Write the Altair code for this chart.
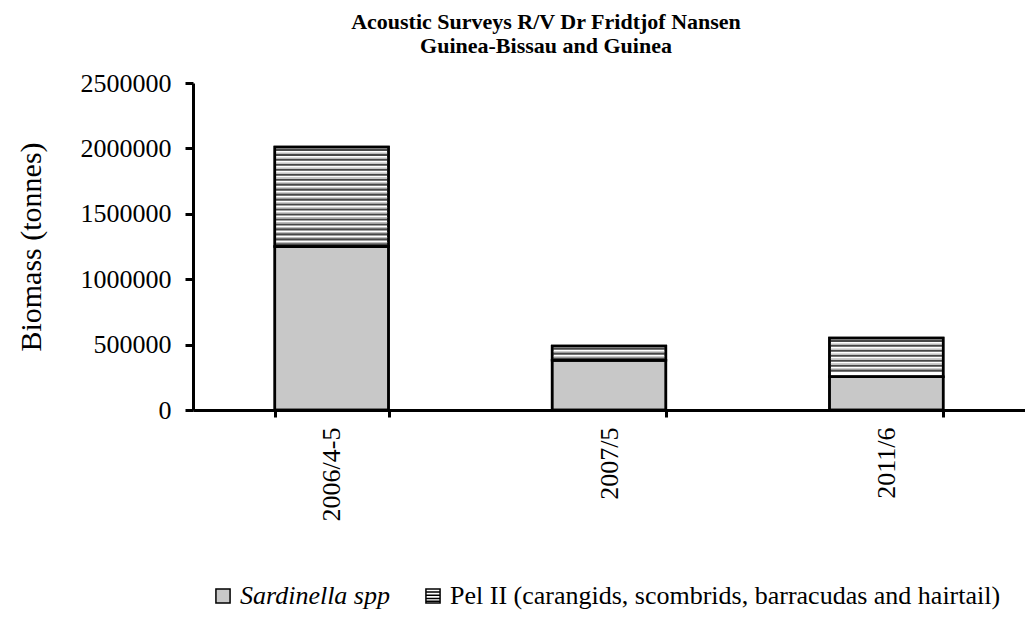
import altair as alt
import pandas as pd
import numpy as np

# ---- data ----
surveys = ["2006/4-5", "2007/5", "2011/6"]
sardinella = [1250000, 380000, 255000]
pel_ii = [760000, 110000, 295000]
series = ["Sardinella spp", "Pel II (carangids, scombrids, barracudas and hairtail)"]
y_ticks = [0, 500000, 1000000, 1500000, 2000000, 2500000]
title_lines = ["Acoustic Surveys R/V Dr Fridtjof Nansen", "Guinea-Bissau and Guinea"]

# ---- tables built from the arrays ----
rows = []
for s, a, b in zip(surveys, sardinella, pel_ii):
    rows.append({"survey": s, "series": series[0], "y0": 0, "y1": a})
    rows.append({"survey": s, "series": series[1], "y0": a, "y1": a + b})
bars = pd.DataFrame(rows)

# horizontal hatch lines inside the Pel II segments (pattern fill)
period = 38000
dark_h = 16000
light_h = 7000
dark_rows, light_rows = [], []
for s, a, b in zip(surveys, sardinella, pel_ii):
    top = a + b
    k = 0
    while True:
        t = top - 0.35 * period - k * period
        lo_ = t - dark_h
        if lo_ <= a + 2000:
            break
        dark_rows.append({"survey": s, "y0": lo_, "y1": t})
        lt = t + light_h + 3000
        if lt < top - 3000:
            light_rows.append({"survey": s, "y0": t + 3000, "y1": lt})
        k += 1
dark = pd.DataFrame(dark_rows)
light = pd.DataFrame(light_rows)

FONT = "Liberation Serif"

x_enc = alt.X(
    "survey:N",
    sort=surveys,
    scale=alt.Scale(paddingInner=0.59, paddingOuter=0.295),
    axis=alt.Axis(
        title=None,
        labelAngle=-90,
        labelAlign="right",
        labelBaseline="middle",
        labelFont=FONT,
        labelFontSize=26,
        labelColor="black",
        labelPadding=10,
        tickBand="extent",
        tickSize=7,
        tickWidth=3,
        tickColor="black",
        domainColor="black",
        domainWidth=3,
    ),
)
y_scale = alt.Scale(domain=[0, 2500000], nice=False)
y_enc = alt.Y(
    "y0:Q",
    scale=y_scale,
    axis=alt.Axis(
        title="Biomass (tonnes)",
        titleFont=FONT,
        titleFontSize=30,
        titleFontWeight="normal",
        titleColor="black",
        titlePadding=34,
        values=y_ticks,
        format="d",
        labelFont=FONT,
        labelFontSize=26,
        labelColor="black",
        labelPadding=14,
        tickSize=8,
        tickWidth=3,
        tickColor="black",
        domainColor="black",
        domainWidth=3,
        grid=False,
    ),
)

base_bar = alt.Chart(bars).mark_bar(stroke="black", strokeWidth=2.5).encode(
    x=x_enc,
    y=y_enc,
    y2="y1:Q",
    fill=alt.Fill(
        "series:N",
        scale=alt.Scale(domain=series, range=["#c8c8c8", "#ffffff"]),
        legend=alt.Legend(
            title=None,
            orient="none",
            legendX=17,
            legendY=500,
            direction="horizontal",
            columns=2,
            columnPadding=30,
            symbolType={
                "expr": "datum.index === 0 ? 'square' : 'M-1,-1H1V1H-1Z M-1,-0.55H1 M-1,-0.1H1 M-1,0.35H1 M-1,0.75H1'"
            },
            symbolSize=200,
            symbolStrokeColor="black",
            symbolStrokeWidth=1.5,
            labelFont=FONT,
            labelFontSize=26,
            labelColor="black",
            labelFontStyle={"expr": "datum.index === 0 ? 'italic' : 'normal'"},
            labelOffset=4,
            labelLimit=800,
        ),
    ),
)

light_layer = alt.Chart(light).mark_bar(fill="#bdbdbd", strokeWidth=0).encode(
    x=x_enc, y=y_enc, y2="y1:Q"
)
dark_layer = alt.Chart(dark).mark_bar(fill="#474747", strokeWidth=0).encode(
    x=x_enc, y=y_enc, y2="y1:Q"
)
outline = alt.Chart(bars).mark_bar(fillOpacity=0, stroke="black", strokeWidth=2.5).encode(
    x=x_enc, y=y_enc, y2="y1:Q"
)

chart = (
    alt.layer(base_bar, light_layer, dark_layer, outline)
    .properties(
        width=832,
        height=327,
        background="white",
        title=alt.TitleParams(
            text=title_lines,
            font=FONT,
            fontSize=22,
            fontWeight="bold",
            color="black",
            anchor="middle",
            dx=-63,
            offset=12,
            lineHeight=24,
        ),
        autosize=alt.AutoSizeParams(type="none"),
        padding={"left": 185, "top": 75, "right": 0, "bottom": 210},
    )
    .configure_view(strokeWidth=0, stroke="transparent")
    .configure_axis(labelFont=FONT, titleFont=FONT)
    .configure_legend(labelFont=FONT)
    .configure_title(font=FONT)
)

chart.save("out.html", embed_options={"renderer": "svg", "actions": False})
